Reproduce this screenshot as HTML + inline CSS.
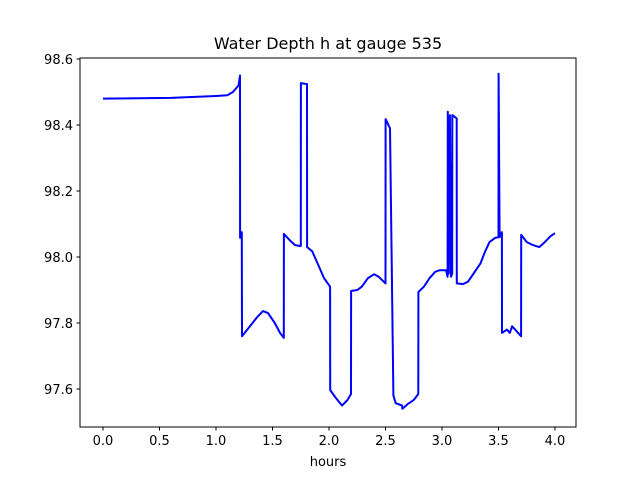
<!DOCTYPE html>
<html><head><meta charset="utf-8"><style>
body{margin:0;background:#fff}
svg text{font-family:"DejaVu Sans","Liberation Sans",sans-serif;fill:#000}
</style></head><body>
<svg id="chart" width="640" height="480" xmlns="http://www.w3.org/2000/svg">
<rect width="640" height="480" fill="#fff"/>
<text x="328" y="49" font-size="16" text-anchor="middle">Water Depth h at gauge 535</text>
<g id="xticks"></g>
<g id="yticks"></g>
<path id="line" fill="none" stroke="#0000ff" stroke-width="2" stroke-linejoin="round"/>
<rect x="80" y="58" width="496" height="369" fill="none" stroke="#000" stroke-width="1"/>
<text x="328" y="466" font-size="13" text-anchor="middle">hours</text>
</svg>
<script>
const hours=[0,0.6,1.0,1.1,1.15,1.2,1.212,1.213,1.228,1.23,1.30,1.37,1.416,1.46,1.52,1.566,1.60,1.601,1.655,1.70,1.75,1.751,1.805,1.806,1.85,1.90,1.956,2.01,2.011,2.06,2.115,2.16,2.195,2.196,2.25,2.29,2.345,2.40,2.44,2.50,2.501,2.54,2.57,2.59,2.646,2.65,2.70,2.75,2.79,2.791,2.84,2.89,2.94,2.98,3.035,3.05,3.051,3.06,3.07,3.08,3.09,3.091,3.13,3.131,3.186,3.23,3.28,3.34,3.38,3.42,3.47,3.50,3.501,3.51,3.53,3.531,3.575,3.60,3.62,3.66,3.70,3.701,3.75,3.805,3.86,3.91,3.96,4.0];
const depths=[98.48,98.482,98.488,98.49,98.5,98.52,98.55,98.058,98.075,97.76,97.79,97.82,97.836,97.83,97.80,97.77,97.755,98.07,98.05,98.036,98.033,98.527,98.524,98.03,98.018,97.98,97.936,97.91,97.597,97.573,97.55,97.565,97.585,97.897,97.9,97.91,97.936,97.948,97.94,97.92,98.418,98.39,97.58,97.557,97.55,97.54,97.555,97.567,97.585,97.894,97.91,97.936,97.955,97.96,97.96,97.94,98.44,97.95,98.43,97.94,97.95,98.43,98.42,97.92,97.918,97.925,97.95,97.98,98.015,98.045,98.058,98.06,98.555,98.06,98.075,97.77,97.78,97.77,97.79,97.775,97.76,98.067,98.045,98.036,98.03,98.045,98.063,98.072];
const xTicks=["0.0","0.5","1.0","1.5","2.0","2.5","3.0","3.5","4.0"];
const yTicks=["97.6","97.8","98.0","98.2","98.4","98.6"];
const X=v=>103+113*v, Y=v=>59+(98.6-v)*330;
const ns="http://www.w3.org/2000/svg";
document.getElementById('line').setAttribute('d',hours.map((h,i)=>(i?'L':'M')+X(h).toFixed(1)+','+Y(depths[i]).toFixed(1)).join(''));
const xg=document.getElementById('xticks'), yg=document.getElementById('yticks');
xTicks.forEach(t=>{const x=X(parseFloat(t));
 const l=document.createElementNS(ns,'line');l.setAttribute('x1',x);l.setAttribute('x2',x);l.setAttribute('y1',427);l.setAttribute('y2',430.5);l.setAttribute('stroke','#000');
 
 xg.appendChild(l);
 const s=document.createElementNS(ns,'text');s.setAttribute('x',x);s.setAttribute('y',445);s.setAttribute('font-size','13');s.setAttribute('text-anchor','middle');s.textContent=t;
 
 xg.appendChild(s);});
yTicks.forEach(t=>{const y=Y(parseFloat(t));
 const l=document.createElementNS(ns,'line');l.setAttribute('x1',76.5);l.setAttribute('x2',80);l.setAttribute('y1',y);l.setAttribute('y2',y);l.setAttribute('stroke','#000');
 
 yg.appendChild(l);
 const s=document.createElementNS(ns,'text');s.setAttribute('x',73);s.setAttribute('y',y+5);s.setAttribute('font-size','13');s.setAttribute('text-anchor','end');s.textContent=t;
 
 yg.appendChild(s);});
</script>
</body></html>
